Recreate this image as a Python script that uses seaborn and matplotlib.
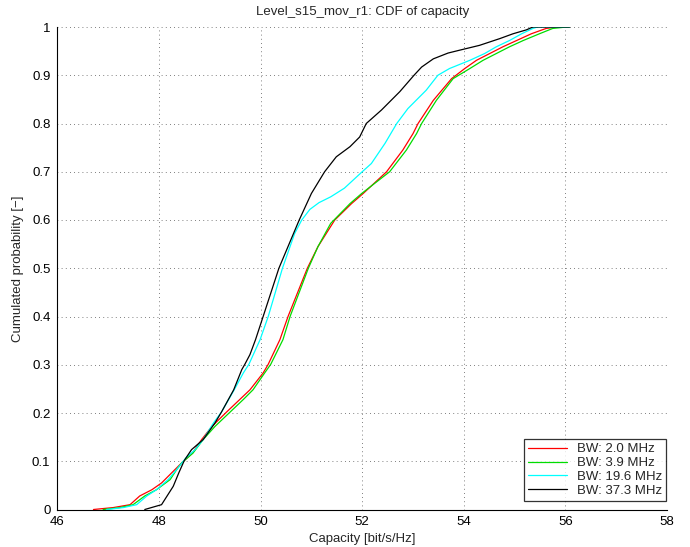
import numpy as np
import pandas as pd
import matplotlib
matplotlib.use("Agg")
import matplotlib.pyplot as plt
import seaborn as sns

# CDF points (capacity in bit/s/Hz, cumulated probability)
labels = ['BW: 2.0 MHz', 'BW: 3.9 MHz', 'BW: 19.6 MHz', 'BW: 37.3 MHz']
colors = ['#ff0000', '#00dd00', '#00ffff', '#000000']

p_red = [0, 0.004, 0.01, 0.028, 0.041, 0.055, 0.076, 0.097, 0.117, 0.145, 0.172, 0.202, 0.228,
         0.248, 0.283, 0.301, 0.352, 0.40, 0.5, 0.545, 0.6, 0.634, 0.655, 0.7, 0.745, 0.779,
         0.8, 0.848, 0.893, 0.914, 0.931, 0.945, 0.959, 0.972, 0.986, 0.997, 1.0, 1.0]
x_red = [46.71, 47.10, 47.43, 47.62, 47.86, 48.05, 48.25, 48.45, 48.66, 48.84, 49.04, 49.33, 49.59,
         49.79, 50.05, 50.15, 50.38, 50.54, 50.92, 51.13, 51.46, 51.79, 52.02, 52.48, 52.80, 53.0,
         53.10, 53.40, 53.76, 54.02, 54.25, 54.51, 54.77, 55.04, 55.33, 55.62, 55.82, 56.08]

p_green = [0, 0.004, 0.01, 0.028, 0.041, 0.062, 0.083, 0.097, 0.117, 0.145, 0.172, 0.202, 0.228,
           0.248, 0.283, 0.301, 0.352, 0.40, 0.5, 0.545, 0.593, 0.634, 0.655, 0.7, 0.745, 0.779,
           0.8, 0.848, 0.893, 0.914, 0.931, 0.945, 0.959, 0.972, 0.986, 0.997, 1.0, 1.0]
x_green = [46.90, 47.23, 47.49, 47.72, 47.95, 48.22, 48.35, 48.45, 48.67, 48.87, 49.10, 49.40, 49.66,
           49.85, 50.08, 50.20, 50.44, 50.58, 50.94, 51.13, 51.38, 51.76, 51.99, 52.54, 52.87, 53.07,
           53.17, 53.46, 53.79, 54.12, 54.38, 54.64, 54.90, 55.17, 55.49, 55.75, 56.02, 56.08]

p_cyan = [0, 0.004, 0.01, 0.028, 0.041, 0.062, 0.083, 0.107, 0.124, 0.145, 0.179, 0.202, 0.248,
          0.283, 0.301, 0.352, 0.40, 0.5, 0.572, 0.6, 0.622, 0.636, 0.648, 0.666, 0.7, 0.717, 0.759, 0.8,
          0.831, 0.869, 0.9, 0.914, 0.931, 0.945, 0.959, 0.972, 0.986, 0.997, 1.0, 1.0]
x_cyan = [46.97, 47.30, 47.56, 47.76, 47.95, 48.18, 48.35, 48.53, 48.71, 48.87, 49.07, 49.23, 49.48,
          49.66, 49.77, 49.99, 50.15, 50.43, 50.67, 50.81, 50.97, 51.15, 51.38, 51.65, 52.0, 52.18, 52.45, 52.68,
          52.90, 53.26, 53.49, 53.72, 54.12, 54.41, 54.64, 54.90, 55.14, 55.36, 55.45, 56.08]

p_black = [0, 0.007, 0.01, 0.048, 0.076, 0.102, 0.124, 0.145, 0.179, 0.202, 0.248, 0.29, 0.301,
           0.321, 0.352, 0.40, 0.5, 0.6, 0.655, 0.7, 0.731, 0.752, 0.772, 0.80, 0.828, 0.866, 0.9,
           0.917, 0.934, 0.946, 0.952, 0.962, 0.976, 0.986, 0.994, 1.0, 1.0]
x_black = [47.72, 47.95, 48.05, 48.28, 48.39, 48.50, 48.64, 48.87, 49.10, 49.23, 49.47, 49.63, 49.69,
           49.79, 49.90, 50.05, 50.36, 50.76, 51.0, 51.26, 51.49, 51.76, 51.95, 52.08, 52.38, 52.74, 53.02,
           53.17, 53.40, 53.69, 53.92, 54.31, 54.71, 54.97, 55.23, 55.36, 56.08]

xs = [x_red, x_green, x_cyan, x_black]
ps = [p_red, p_green, p_cyan, p_black]

frames = []
for lab, x, p in zip(labels, xs, ps):
    frames.append(pd.DataFrame({'capacity': x, 'cdf': p, 'bw': lab}))
df = pd.concat(frames, ignore_index=True)

sns.set_style("white")
plt.rcParams['font.family'] = ['Liberation Sans', 'DejaVu Sans']
fs = 9.5

fig = plt.figure(figsize=(6.9, 5.47), dpi=100)
ax = fig.add_axes([57.4 / 690, 1 - 509.5 / 547, (667 - 57.4) / 690, (509.5 - 27) / 547])

sns.lineplot(data=df, x='capacity', y='cdf', hue='bw', hue_order=labels,
             palette=dict(zip(labels, colors)), sort=False, estimator=None,
             linewidth=0.9, ax=ax)

ax.set_xlim(46, 58)
ax.set_ylim(0, 1)
ax.set_xticks(np.arange(46, 59, 2))
yt = np.round(np.arange(0, 1.01, 0.1), 1)
ax.set_yticks(yt)
ax.set_yticklabels(['0'] + [f'{v:g}' for v in yt[1:-1]] + ['1'])
ax.tick_params(direction='in', length=4, width=0.6, labelsize=fs, colors='black')
ax.tick_params(axis='x', pad=5)
ax.tick_params(axis='y', pad=5)
ax.grid(True, color='#555555', linestyle=(0, (1, 4)), linewidth=0.6)
for s in ['top', 'right']:
    ax.spines[s].set_visible(False)
for s in ['left', 'bottom']:
    ax.spines[s].set_color('black')
    ax.spines[s].set_linewidth(0.8)

ax.set_title('Level_s15_mov_r1: CDF of capacity', fontsize=fs, pad=9)
ax.set_xlabel('Capacity [bit/s/Hz]', fontsize=fs, labelpad=3)
ax.set_ylabel('Cumulated probability [\u2212]', fontsize=fs, labelpad=6)

leg = ax.legend(loc='lower right', bbox_to_anchor=(0.998, 0.018), borderaxespad=0,
                fontsize=fs, frameon=True, fancybox=False, handlelength=3.0,
                labelspacing=0.12, borderpad=0.3, handletextpad=0.7)
leg.get_frame().set_edgecolor('black')
leg.get_frame().set_linewidth(0.9)
for line in leg.get_lines():
    line.set_linewidth(0.9)

fig.savefig('out.png', dpi=100)
